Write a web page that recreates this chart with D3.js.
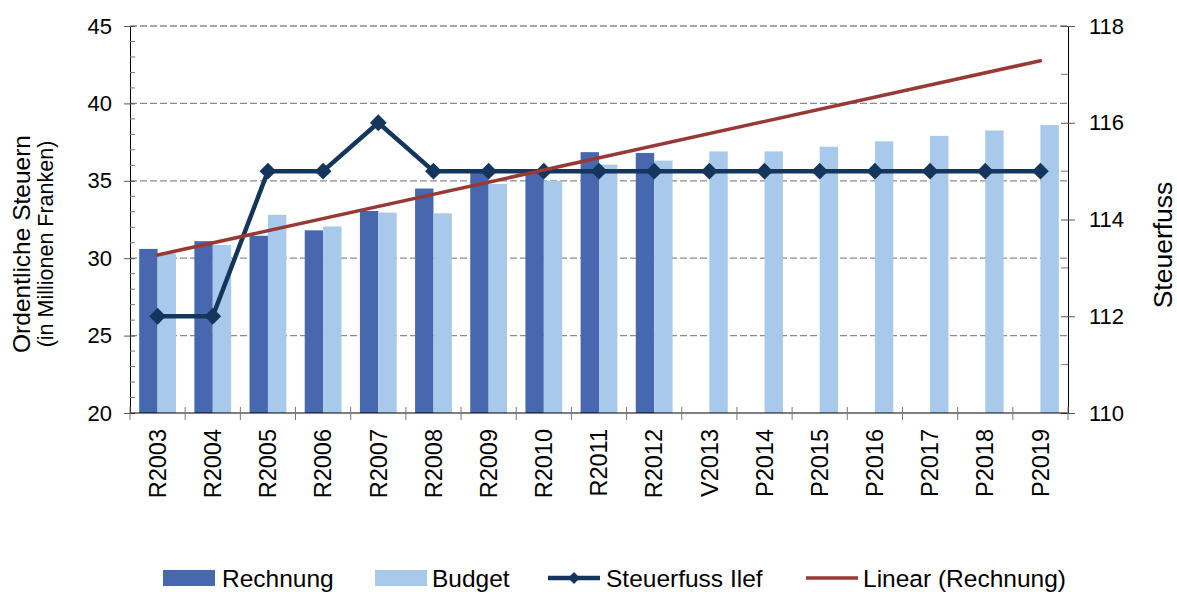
<!DOCTYPE html>
<html>
<head>
  <meta charset="utf-8">
  <script src="https://d3js.org/d3.v7.min.js"></script>
  <style>
    body { margin: 0; background: #fff; }
    text { font-family: "Liberation Sans", Arial, sans-serif; fill: #000; }
  </style>
</head>
<body>
<div id="chart"></div>
<script type="text/javascript">

  // categories and series
  var categories = ["R2003","R2004","R2005","R2006","R2007","R2008","R2009","R2010","R2011","R2012",
                    "V2013","P2014","P2015","P2016","P2017","P2018","P2019"];
  var rechnung = [30.6, 31.1, 31.45, 31.8, 33.05, 34.5, 35.7, 35.5, 36.85, 36.8];
  var budget = [30.3, 30.85, 32.8, 32.05, 32.95, 32.9, 34.8, 35.0, 36.05, 36.3,
                36.9, 36.9, 37.2, 37.55, 37.9, 38.25, 38.6];
  var steuerfuss = [112, 112, 115, 115, 116, 115, 115, 115, 115, 115,
                    115, 115, 115, 115, 115, 115, 115];
  var leftTicks = [20, 25, 30, 35, 40, 45];
  var rightTicks = [110, 112, 114, 116, 118];

  var colRechnung = "#4767ae",
      colBudget = "#a8c9ea",
      colSteuer = "#14365d",
      colTrend = "#973935";

  var width = 1177, height = 592;
  var pLeft = 130, pRight = 1068, pTop = 26, pBottom = 413;

  var svg = d3.select("#chart").append("svg")
    .attr("width", width)
    .attr("height", height);

  var x0 = d3.scaleBand().domain(categories).range([pLeft, pRight]);
  var x1 = d3.scaleBand().domain(["Rechnung", "Budget"])
    .range([0, x0.bandwidth()]).paddingInner(0).paddingOuter(0.5);

  var yL = d3.scaleLinear().domain([20, 45]).range([pBottom, pTop]);
  var yR = d3.scaleLinear().domain([110, 118]).range([pBottom, pTop]);

  // dashed gridlines
  svg.append("g").selectAll("line")
    .data(leftTicks.slice(1))
    .enter().append("line")
    .attr("x1", pLeft).attr("x2", pRight)
    .attr("y1", function(d) { return yL(d); })
    .attr("y2", function(d) { return yL(d); })
    .attr("stroke", "#8a8a8a")
    .attr("stroke-width", 1.3)
    .attr("stroke-dasharray", "7,3");

  // bars
  var groups = svg.append("g").selectAll("g")
    .data(categories)
    .enter().append("g")
    .attr("transform", function(d) { return "translate(" + x0(d) + ",0)"; });

  groups.filter(function(d, i) { return i < rechnung.length; })
    .append("rect")
    .attr("x", x1("Rechnung"))
    .attr("width", x1.bandwidth())
    .attr("y", function(d) { return yL(rechnung[categories.indexOf(d)]); })
    .attr("height", function(d) { return pBottom - yL(rechnung[categories.indexOf(d)]); })
    .attr("fill", colRechnung);

  groups.append("rect")
    .attr("x", x1("Budget"))
    .attr("width", x1.bandwidth())
    .attr("y", function(d, i) { return yL(budget[i]); })
    .attr("height", function(d, i) { return pBottom - yL(budget[i]); })
    .attr("fill", colBudget);

  function cx(i) { return x0(categories[i]) + x0.bandwidth() / 2; }

  // Steuerfuss line on right axis
  var line = d3.line()
    .x(function(d, i) { return cx(i); })
    .y(function(d) { return yR(d); });

  svg.append("path")
    .datum(steuerfuss)
    .attr("d", line)
    .attr("fill", "none")
    .attr("stroke", colSteuer)
    .attr("stroke-width", 4.5)
    .attr("stroke-linejoin", "round");

  var diamond = d3.symbol().type(d3.symbolDiamond2).size(180);
  svg.append("g").selectAll("path")
    .data(steuerfuss)
    .enter().append("path")
    .attr("d", diamond)
    .attr("transform", function(d, i) { return "translate(" + cx(i) + "," + yR(d) + ")"; })
    .attr("fill", colSteuer);

  // linear trend of Rechnung, extended over all categories
  var mx = d3.mean(rechnung, function(d, i) { return i; });
  var my = d3.mean(rechnung);
  var sxy = d3.sum(rechnung, function(d, i) { return (i - mx) * (d - my); });
  var sxx = d3.sum(rechnung, function(d, i) { return (i - mx) * (i - mx); });
  var slope = sxy / sxx, icpt = my - slope * mx;

  svg.append("line")
    .attr("x1", cx(0)).attr("y1", yL(icpt))
    .attr("x2", cx(categories.length - 1)).attr("y2", yL(icpt + slope * (categories.length - 1)))
    .attr("stroke", colTrend)
    .attr("stroke-width", 3.5)
    .attr("stroke-linecap", "round");

  // left axis
  var gL = svg.append("g").attr("transform", "translate(" + pLeft + ",0)");
  gL.call(d3.axisLeft(yL).tickValues(leftTicks).tickSize(6).tickSizeOuter(0).tickPadding(12));
  gL.selectAll(".tick line").attr("x2", -6).attr("x1", 5).attr("stroke", "#555");
  gL.append("g").selectAll("line")
    .data(d3.range(21, 45).filter(function(d) { return d % 5 !== 0; }))
    .enter().append("line")
    .attr("x1", 0).attr("x2", 5)
    .attr("y1", function(d) { return yL(d); }).attr("y2", function(d) { return yL(d); })
    .attr("stroke", "#777");

  // right axis
  var gR = svg.append("g").attr("transform", "translate(" + pRight + ",0)");
  gR.call(d3.axisRight(yR).tickValues(rightTicks).tickSize(7).tickSizeOuter(0).tickPadding(14));
  gR.selectAll(".tick line").attr("x1", -7).attr("stroke", "#555");
  gR.append("g").selectAll("line")
    .data([111, 113, 115, 117])
    .enter().append("line")
    .attr("x1", -7).attr("x2", 0)
    .attr("y1", function(d) { return yR(d); }).attr("y2", function(d) { return yR(d); })
    .attr("stroke", "#777");

  // bottom axis with ticks at category boundaries
  var gB = svg.append("g").attr("transform", "translate(0," + pBottom + ")");
  gB.append("line").attr("x1", pLeft).attr("x2", pRight).attr("stroke", "#000");
  gB.selectAll(".bt")
    .data(d3.range(categories.length + 1))
    .enter().append("line")
    .attr("class", "bt")
    .attr("x1", function(i) { return pLeft + i * x0.step(); })
    .attr("x2", function(i) { return pLeft + i * x0.step(); })
    .attr("y1", -6).attr("y2", 7)
    .attr("stroke", "#777");
  gB.selectAll(".xl")
    .data(categories)
    .enter().append("text")
    .attr("class", "xl")
    .attr("transform", function(d, i) { return "translate(" + cx(i) + ",16) rotate(-90)"; })
    .attr("text-anchor", "end")
    .attr("dy", "0.35em")
    .style("font-size", "23.5px")
    .text(function(d) { return d; });

  svg.selectAll(".domain").attr("stroke", "#000");
  svg.selectAll(".tick text").style("font-size", "22px").style("font-family", "'Liberation Sans', Arial, sans-serif");

  // axis titles
  svg.append("text")
    .attr("transform", "translate(30,244) rotate(-90)")
    .attr("text-anchor", "middle")
    .style("font-size", "24.5px")
    .text("Ordentliche Steuern");
  svg.append("text")
    .attr("transform", "translate(53,244) rotate(-90)")
    .attr("text-anchor", "middle")
    .style("font-size", "21.5px")
    .text("(in Millionen Franken)");
  svg.append("text")
    .attr("transform", "translate(1172,245) rotate(-90)")
    .attr("text-anchor", "middle")
    .style("font-size", "26.5px")
    .text("Steuerfuss");

  // legend
  var legendY = 578;
  var legendDiamond = d3.symbol().type(d3.symbolDiamond2).size(90);
  var lg = svg.append("g");
  lg.append("rect").attr("x", 163).attr("y", legendY - 8).attr("width", 52).attr("height", 16).attr("fill", colRechnung);
  lg.append("text").attr("x", 222).attr("y", legendY).attr("dy", "0.35em").style("font-size", "24.5px").text("Rechnung");
  lg.append("rect").attr("x", 375).attr("y", legendY - 8).attr("width", 52).attr("height", 16).attr("fill", colBudget);
  lg.append("text").attr("x", 432).attr("y", legendY).attr("dy", "0.35em").style("font-size", "24.5px").text("Budget");
  lg.append("line").attr("x1", 548).attr("x2", 600).attr("y1", legendY).attr("y2", legendY)
    .attr("stroke", colSteuer).attr("stroke-width", 4.5);
  lg.append("path").attr("d", legendDiamond).attr("transform", "translate(574," + legendY + ")").attr("fill", colSteuer);
  lg.append("text").attr("x", 606).attr("y", legendY).attr("dy", "0.35em").style("font-size", "24.5px").text("Steuerfuss Ilef");
  lg.append("line").attr("x1", 806).attr("x2", 858).attr("y1", legendY).attr("y2", legendY)
    .attr("stroke", colTrend).attr("stroke-width", 3.5);
  lg.append("text").attr("x", 863).attr("y", legendY).attr("dy", "0.35em").style("font-size", "24.5px").text("Linear (Rechnung)");

</script>
</body>
</html>
